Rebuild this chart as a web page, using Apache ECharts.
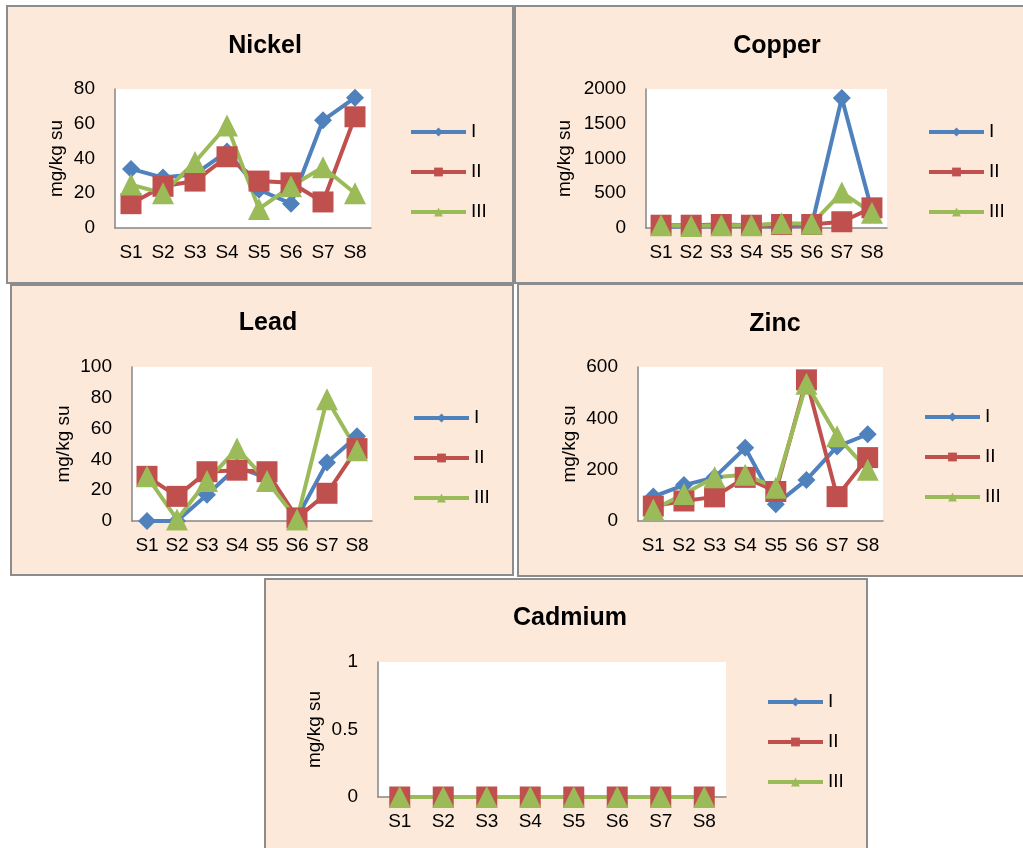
<!DOCTYPE html>
<html>
<head>
<meta charset="utf-8">
<script src="https://cdn.jsdelivr.net/npm/echarts@6/dist/echarts.min.js"></script>
<style>
html,body{margin:0;padding:0;background:#fff;}
#c{width:1023px;height:848px;}
</style>
</head>
<body>
<div id="c"></div>
<script>
// ---- data ----
const categories = ['S1','S2','S3','S4','S5','S6','S7','S8'];
const seriesNames = ['I','II','III'];

const nickelI   = [34, 29, 31, 44, 22, 14, 62, 75];
const nickelII  = [14, 24, 27, 41, 27, 26, 15, 64];
const nickelIII = [25, 20, 38, 59, 11, 24, 35, 20];

const copperI   = [20, 20, 30, 30, 20, 40, 1870, 250];
const copperII  = [40, 40, 50, 40, 50, 50, 90, 290];
const copperIII = [40, 30, 40, 40, 70, 60, 510, 220];

const leadI   = [0, 0, 17, 35, 28, 2, 38, 55];
const leadII  = [29, 16, 32, 33, 32, 2, 18, 47];
const leadIII = [29, 1, 26, 47, 26, 1, 79, 46];

const zincI   = [95, 140, 170, 285, 65, 160, 290, 338];
const zincII  = [58, 78, 94, 170, 115, 550, 95, 247];
const zincIII = [45, 105, 170, 180, 130, 535, 330, 200];

const cadmiumI   = [0, 0, 0, 0, 0, 0, 0, 0];
const cadmiumII  = [0, 0, 0, 0, 0, 0, 0, 0];
const cadmiumIII = [0, 0, 0, 0, 0, 0, 0, 0];

const titles = ['Nickel','Copper','Lead','Zinc','Cadmium'];
const yMax = [80, 2000, 100, 600, 1];
const yInterval = [20, 500, 20, 200, 0.5];
const yAxisName = 'mg/kg su';

// ---- layout ----
const panels = [
  {box:[7,6,506,277],   grid:[115,89,256,139],  title:[260,29],  legend:[409,122], nameGap:49},
  {box:[515,6,510,277], grid:[646,89,241,139],  title:[772,29],  legend:[927,122], nameGap:72},
  {box:[11,285,502,290],grid:[132,367,240,154], title:[263,306], legend:[412,408], nameGap:59},
  {box:[518,284,508,292],grid:[638,367,245,154],title:[770,307], legend:[923,407], nameGap:59},
  {box:[265,579,602,275],grid:[378,662,348,135],title:[565,601], legend:[766,692], nameGap:54}
];
const allData = [
  [nickelI, nickelII, nickelIII],
  [copperI, copperII, copperIII],
  [leadI, leadII, leadIII],
  [zincI, zincII, zincIII],
  [cadmiumI, cadmiumII, cadmiumIII]
];
const colors = ['#4F81BD','#C0504D','#9BBB59'];
const symbols = ['diamond','rect','triangle'];
const symbolSizes = [18, 21, 22];
const FONT = '"Liberation Sans", Arial, sans-serif';

const option = {
  animation:false,
  backgroundColor:'#ffffff',
  color: colors,
  textStyle:{fontFamily:FONT},
  graphic: panels.map(p=>({
    type:'rect', z:-10, silent:true,
    shape:{x:p.box[0], y:p.box[1], width:p.box[2], height:p.box[3]},
    style:{fill:'#FDE9D9', stroke:'#8C8C8C', lineWidth:2}
  })),
  title: panels.map((p,i)=>({
    text:titles[i], left:p.title[0], top:p.title[1], textAlign:'center',
    textStyle:{fontFamily:FONT, fontSize:25, fontWeight:'bold', color:'#000'}
  })),
  legend: panels.map(p=>({
    data: seriesNames, orient:'vertical', left:p.legend[0], top:p.legend[1],
    itemWidth:55, itemHeight:11, itemGap:20, padding:0,
    lineStyle:{width:4},
    textStyle:{fontFamily:FONT, fontSize:19, color:'#000', lineHeight:20},
    selectedMode:false
  })),
  grid: panels.map(p=>({
    left:p.grid[0], top:p.grid[1], width:p.grid[2], height:p.grid[3],
    show:true, backgroundColor:'#ffffff', borderWidth:0
  })),
  xAxis: panels.map((p,i)=>({
    type:'category', gridIndex:i, data:categories, boundaryGap:true,
    axisLine:{lineStyle:{color:'#868686', width:1.5}},
    axisTick:{show:false},
    axisLabel:{interval:0, margin:15, fontSize:19, color:'#000', fontFamily:FONT},
    splitLine:{show:false}
  })),
  yAxis: panels.map((p,i)=>({
    type:'value', gridIndex:i, min:0, max:yMax[i], interval:yInterval[i],
    name:yAxisName, nameLocation:'middle', nameGap:p.nameGap, nameRotate:90,
    nameTextStyle:{fontSize:19, color:'#000', fontFamily:FONT},
    axisLine:{show:true, lineStyle:{color:'#868686', width:1.5}},
    axisTick:{show:false},
    axisLabel:{margin:20, fontSize:19, color:'#000', fontFamily:FONT,
               formatter: v => String(v)},
    splitLine:{show:false}
  })),
  series: []
};

allData.forEach((set,gi)=>{
  set.forEach((vals,si)=>{
    option.series.push({
      type:'line', name:seriesNames[si], xAxisIndex:gi, yAxisIndex:gi,
      data:vals, symbol:symbols[si], symbolSize:symbolSizes[si],
      showAllSymbol:true,
      lineStyle:{width:4, color:colors[si]},
      itemStyle:{color:colors[si], borderWidth:0},
      emphasis:{disabled:true}
    });
  });
});

const chart = echarts.init(document.getElementById('c'), null, {renderer:'canvas'});
chart.setOption(option);
</script>
</body>
</html>
